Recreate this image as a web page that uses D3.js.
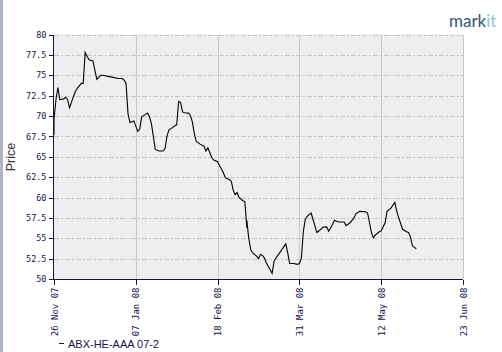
<!DOCTYPE html>
<html><head><meta charset="utf-8">
<script src="https://cdn.jsdelivr.net/npm/d3@7"></script>
<style>
html,body{margin:0;padding:0;background:#fff;}
svg{display:block;}
</style></head>
<body>
<script>
// ---- data ----
const seriesName = "ABX-HE-AAA 07-2";
const dates = [
"2007-11-26","2007-11-26","2007-11-27","2007-11-28","2007-11-29","2007-12-01","2007-12-02","2007-12-03","2007-12-04",
"2007-12-06","2007-12-07","2007-12-08","2007-12-10","2007-12-11","2007-12-12","2007-12-13","2007-12-14","2007-12-16",
"2007-12-17","2007-12-18","2007-12-20","2007-12-21","2007-12-25","2007-12-29","2007-12-31","2008-01-01","2008-01-02",
"2008-01-03","2008-01-04","2008-01-05","2008-01-06","2008-01-08","2008-01-09","2008-01-10","2008-01-12","2008-01-13",
"2008-01-14","2008-01-15","2008-01-16","2008-01-17","2008-01-19","2008-01-21","2008-01-22","2008-01-23","2008-01-24",
"2008-01-26","2008-01-27","2008-01-28","2008-01-29","2008-01-30","2008-01-31","2008-02-01","2008-02-03","2008-02-04",
"2008-02-05","2008-02-06","2008-02-07","2008-02-09","2008-02-11","2008-02-12","2008-02-13","2008-02-14","2008-02-15",
"2008-02-16","2008-02-18","2008-02-19","2008-02-20","2008-02-21","2008-02-22","2008-02-24","2008-02-25","2008-02-26",
"2008-02-27","2008-02-28","2008-02-29","2008-03-02","2008-03-03","2008-03-04","2008-03-04","2008-03-05","2008-03-06",
"2008-03-07","2008-03-09","2008-03-10","2008-03-11","2008-03-12","2008-03-13","2008-03-14","2008-03-17","2008-03-18",
"2008-03-19","2008-03-22","2008-03-24","2008-03-25","2008-03-26","2008-03-28","2008-03-30","2008-03-31","2008-04-01",
"2008-04-02","2008-04-03","2008-04-04","2008-04-06","2008-04-07","2008-04-09","2008-04-11","2008-04-12","2008-04-14",
"2008-04-15","2008-04-17","2008-04-18","2008-04-20","2008-04-23","2008-04-24","2008-04-26","2008-04-28","2008-04-29",
"2008-05-01","2008-05-04","2008-05-05","2008-05-06","2008-05-07","2008-05-08","2008-05-09","2008-05-11","2008-05-12",
"2008-05-14","2008-05-15","2008-05-17","2008-05-19","2008-05-20","2008-05-21","2008-05-23","2008-05-25","2008-05-26",
"2008-05-27","2008-05-28","2008-05-30"
];
const prices = [
67.7,69.6,72.0,73.5,72.0,72.1,72.3,72.0,71.0,
72.4,73.0,73.4,74.0,74.0,77.8,77.3,76.9,76.75,
75.6,74.5,75.0,75.0,74.8,74.6,74.6,74.4,74.0,
70.3,69.2,69.3,69.4,68.1,68.4,69.9,70.2,70.35,
69.9,69.1,67.5,65.9,65.7,65.7,66.0,67.5,68.3,
68.6,68.8,68.9,71.8,71.65,70.5,70.4,70.35,70.1,
69.3,67.9,66.9,66.55,66.3,65.7,66.1,65.5,64.9,
64.6,64.4,63.9,63.5,63.0,62.4,62.2,62.0,60.9,
60.35,60.6,60.0,59.6,59.5,56.3,57.2,55.0,53.6,
53.2,52.8,52.5,53.0,52.9,52.6,52.0,50.7,52.2,
52.6,53.6,54.3,53.2,51.9,51.9,51.8,51.9,52.5,
55.8,57.3,57.7,58.1,57.3,55.7,56.1,56.35,56.4,
55.85,56.7,57.2,57.0,57.0,56.55,56.9,57.5,58.0,
58.3,58.25,58.1,56.9,55.7,55.05,55.4,55.8,55.9,
56.9,58.3,58.7,59.4,58.3,57.5,56.1,55.8,55.7,
55.2,54.1,53.7
];
const xTickDates = ["2007-11-26","2008-01-07","2008-02-18","2008-03-31","2008-05-12","2008-06-23"];
const yTicks = [50,52.5,55,57.5,60,62.5,65,67.5,70,72.5,75,77.5,80];
const yLabel = "Price";

// ---- drawing ----
const W = 502, H = 352;
const parse = d3.utcParse("%Y-%m-%d");
const svg = d3.select("body").append("svg").attr("width", W).attr("height", H);

const pLeft = 54, pRight = 463, pTop = 34.5, pBottom = 279;
const x = d3.scaleUtc().domain([parse(xTickDates[0]), parse(xTickDates[xTickDates.length-1])]).range([pLeft, pRight]);
const y = d3.scaleLinear().domain([50, 80]).range([pBottom, pTop]);

// left edge bar
svg.append("rect").attr("x",0).attr("y",0).attr("width",3).attr("height",H).attr("fill","#aab6c8");

// plot background
svg.append("rect").attr("x",pLeft).attr("y",pTop).attr("width",pRight-pLeft).attr("height",pBottom-pTop).attr("fill","#eeeeee");

// horizontal grid (dash-dot)
svg.append("g").selectAll("line").data(yTicks.filter(v=>v>50)).join("line")
  .attr("x1",pLeft).attr("x2",pRight)
  .attr("y1",d=>Math.round(y(d))+0.5).attr("y2",d=>Math.round(y(d))+0.5)
  .attr("stroke","#c4c4c4").attr("stroke-width",1).attr("stroke-dasharray","5,2,2,2")
  .attr("shape-rendering","crispEdges");

// vertical grid
svg.append("g").selectAll("line").data(xTickDates.slice(1)).join("line")
  .attr("x1",d=>Math.round(x(parse(d)))+0.5).attr("x2",d=>Math.round(x(parse(d)))+0.5)
  .attr("y1",pTop).attr("y2",pBottom)
  .attr("stroke","#c8c8c8").attr("stroke-width",1).attr("shape-rendering","crispEdges");

// data line
const pts = dates.map((d,i)=>({d:parse(d), v:prices[i]}));
svg.append("path").datum(pts)
  .attr("d", d3.line().x(p=>x(p.d)).y(p=>y(p.v)))
  .attr("fill","none").attr("stroke","#000").attr("stroke-width",1.1);

// axes
const axisColor = "#14144a";
const yAxis = svg.append("g").attr("transform",`translate(${pLeft-0.5},0)`)
  .call(d3.axisLeft(y).tickValues(yTicks).tickSize(5).tickPadding(2).tickFormat(d=>String(d)));
const xAxis = svg.append("g").attr("transform",`translate(0,${pBottom+0.5})`)
  .call(d3.axisBottom(x).tickValues(xTickDates.map(parse)).tickSize(5).tickFormat(d3.utcFormat("%d %b %y")));
[yAxis,xAxis].forEach(g=>{
  g.select(".domain").attr("stroke",axisColor).attr("stroke-width",1.2).attr("shape-rendering","crispEdges");
  g.selectAll(".tick line").attr("stroke",axisColor).attr("shape-rendering","crispEdges");
  g.selectAll("text").attr("fill",axisColor).attr("font-family","DejaVu Sans Mono").attr("font-size","8.5px");
});
xAxis.selectAll("text").attr("font-size","9px");
yAxis.select(".domain").attr("d",`M0,${y(80)}V${pBottom}`);
xAxis.select(".domain").attr("d",`M${pLeft-1},0H${pRight}`);
xAxis.selectAll("text")
  .attr("transform","rotate(-90)")
  .attr("text-anchor","end").attr("x",-8).attr("y",0).attr("dy","0.35em");

// y label
svg.append("text").attr("transform",`translate(15,157) rotate(-90)`)
  .attr("text-anchor","middle").attr("font-family","Liberation Sans, Arial, sans-serif")
  .attr("font-size","12.5px").attr("fill","#333").text(yLabel);

// legend
svg.append("line").attr("x1",59).attr("x2",64).attr("y1",343.5).attr("y2",343.5)
  .attr("stroke",axisColor).attr("stroke-width",1).attr("shape-rendering","crispEdges");
svg.append("text").attr("x",68).attr("y",348).attr("font-family","Liberation Sans, Arial, sans-serif")
  .attr("font-size","11px").attr("fill",axisColor).text(seriesName);

// logo
const logo = svg.append("text").attr("x",449).attr("y",27).attr("font-family","Lato, Open Sans, sans-serif")
  .attr("font-size","17px").attr("fill","#2e5a6c");
logo.append("tspan").text("mark");
logo.append("tspan").attr("fill","#8cc8d4").text("it");
</script>
</body></html>
